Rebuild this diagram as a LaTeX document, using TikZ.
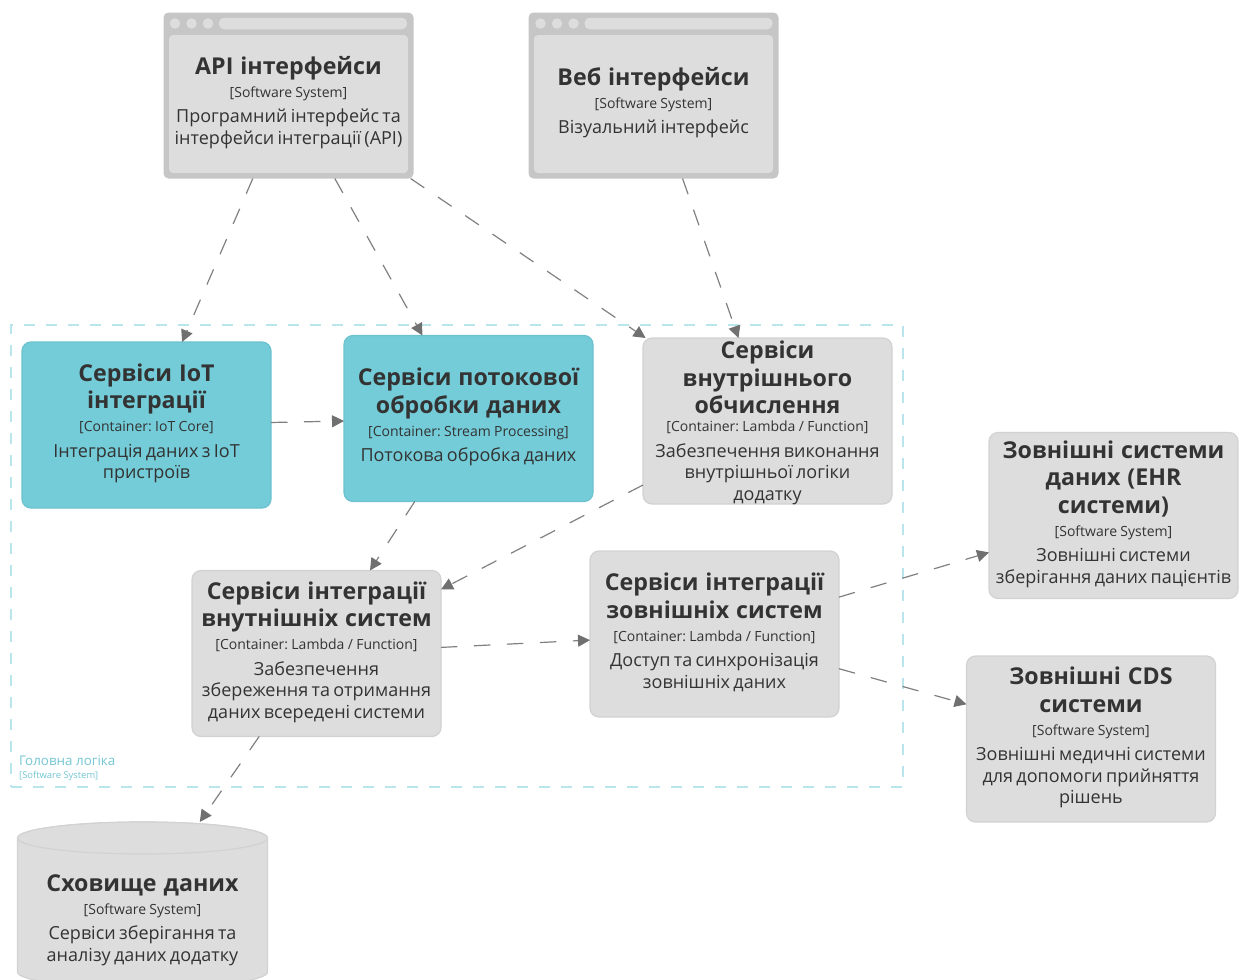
\documentclass[tikz,border=0pt]{standalone}
\usepackage{fontspec}
\setmainfont{Open Sans}
\usetikzlibrary{arrows.meta}
\definecolor{boxgray}{HTML}{DDDDDD}
\definecolor{boxline}{HTML}{D2D2D2}
\definecolor{winframe}{HTML}{C6C6C6}
\definecolor{tealfill}{HTML}{73CCD8}
\definecolor{tealline}{HTML}{6CC2CE}
\definecolor{bndline}{HTML}{B9E6EC}
\definecolor{bndtext}{HTML}{73C6D2}
\definecolor{txtdark}{HTML}{333333}
\definecolor{conn}{HTML}{808080}
\definecolor{conntip}{HTML}{707070}
\newcommand\boxtext[3]{\vbox to 0pt{\frenchspacing\vss{\fontsize{23.2}{27.5}\selectfont\bfseries\spaceskip=.3em #1\par}{\fontsize{14}{23}\selectfont #2\par}\vspace{4pt}{\fontsize{18}{21.5}\selectfont #3\par}\vskip 3pt\vss}}
\tikzset{
  base/.style={rectangle,inner sep=0pt,outer sep=0pt,minimum width=249pt,minimum height=166pt,text width=248pt,align=center,text=txtdark},
  sysbox/.style={base,fill=boxgray,draw=boxline,line width=1.2pt,rounded corners=9pt},
  tealbox/.style={base,fill=tealfill,draw=tealline,line width=1.2pt,rounded corners=9pt},
  winouter/.style={base,fill=winframe,rounded corners=5pt,minimum width=250pt},
  wininner/.style={base,fill=boxgray,rounded corners=4pt,minimum width=239pt,minimum height=138pt,text width=236pt},
  rel/.style={draw=conn,line width=1.2pt,dash pattern=on 16.5pt off 16.5pt,-{Triangle[length=12pt,width=12pt,color=conntip,fill=conntip]}},
  bnd/.style={draw=bndline,line width=1.3pt,dash pattern=on 11pt off 11pt},
  dot/.style={circle,fill=boxgray,inner sep=0pt,minimum size=10.5pt},
  winbar/.style={rectangle,fill=boxgray,rounded corners=5pt,inner sep=0pt,minimum width=188pt,minimum height=11.5pt},
}
\begin{document}
\begin{tikzpicture}[x=1pt,y=-1pt]
\useasboundingbox (0,0) rectangle (1240,980);
% boundary
\node[bnd,rectangle,inner sep=0pt,minimum width=892pt,minimum height=462pt] (boundary) at (457,556) {};
\node[anchor=base west,inner sep=0pt,text=bndtext,font=\fontsize{13.4}{16}\selectfont] (bndtitle) at (19,765) {Головна логіка};
\node[anchor=base west,inner sep=0pt,text=bndtext,font=\fontsize{9.4}{10}\selectfont] (bndsub) at (19,778) {[Software System]};
% API window
\node[winouter] (api) at (288.5,95.5) {};
\node[wininner] (apiin) at (288.5,104) {\boxtext{API інтерфейси}{[Software System]}{Програмний інтерфейс та\\інтерфейси інтеграції (API)}};
\node[dot] (apid1) at (175,23.5) {};
\node[dot] (apid2) at (191.5,23.5) {};
\node[dot] (apid3) at (208,23.5) {};
\node[winbar] (apibar) at (313,23.5) {};
% Web window
\node[winouter] (web) at (653.5,95.5) {};
\node[wininner] (webin) at (653.5,104) {\boxtext{Веб інтерфейси}{[Software System]}{Візуальний інтерфейс}};
\node[dot] (webd1) at (540.5,23.5) {};
\node[dot] (webd2) at (557,23.5) {};
\node[dot] (webd3) at (573.5,23.5) {};
\node[winbar] (webbar) at (678.5,23.5) {};
% containers
\node[tealbox] (iot) at (146.5,425) {\boxtext{Сервіси IoT\\інтеграції}{[Container: IoT Core]}{Інтеграція даних з IoT\\пристроїв}};
\node[tealbox] (stream) at (468.5,418.5) {\boxtext{Сервіси потокової\\обробки даних}{[Container: Stream Processing]}{Потокова обробка даних}};
\node[sysbox] (internal) at (767.5,421) {\raisebox{-12pt}{\parbox{248pt}{\centering\boxtext{Сервіси\\внутрішнього\\обчислення\par\vspace{-5pt}}{[Container: Lambda / Function]}{Забезпечення виконання\\внутрішньої логіки\\додатку}}}};
\node[sysbox] (intint) at (316.5,653.5) {\boxtext{Сервіси інтеграції\\внутнішніх систем}{[Container: Lambda / Function]}{Забезпечення\\збереження та отримання\\даних всередені системи}};
\node[sysbox] (extint) at (714.5,634) {\boxtext{Сервіси інтеграції\\зовнішніх систем}{[Container: Lambda / Function]}{Доступ та синхронізація\\зовнішніх даних}};
\node[sysbox] (ehr) at (1113.5,515.5) {\boxtext{Зовнішні системи\\даних (EHR\\системи)}{[Software System]}{Зовнішні системи\\зберігання даних пацієнтів}};
\node[sysbox] (cds) at (1091,739) {\boxtext{Зовнішні CDS\\системи}{[Software System]}{Зовнішні медичні системи\\для допомоги прийняття\\рішень}};
% cylinder store
\path[fill=boxgray,draw=boxline,line width=1.2pt] (17.5,838) arc[x radius=125,y radius=16,start angle=180,end angle=360] -- (267.5,972) arc[x radius=125,y radius=16,start angle=0,end angle=180] -- cycle;
\path[fill=boxgray,draw=boxline,line width=1.2pt] (142.5,838) ellipse[x radius=125,y radius=16];
\node[base] (store) at (142.5,905) {\raisebox{-38pt}{\parbox{248pt}{\centering\boxtext{Сховище даних}{[Software System]}{Сервіси зберігання та\\аналізу даних додатку}}}};
% connectors
\draw[rel] (api) -- (iot);
\draw[rel] (api) -- (stream);
\draw[rel] (api) -- (internal);
\draw[rel] (web) -- (internal);
\draw[rel] (iot) -- (stream);
\draw[rel] (stream) -- (intint);
\draw[rel] (internal) -- (intint);
\draw[rel] (intint) -- (extint);
\draw[rel] (intint) -- (store);
\draw[rel] (extint) -- (ehr);
\draw[rel] (extint) -- (cds);
\end{tikzpicture}
\end{document}
